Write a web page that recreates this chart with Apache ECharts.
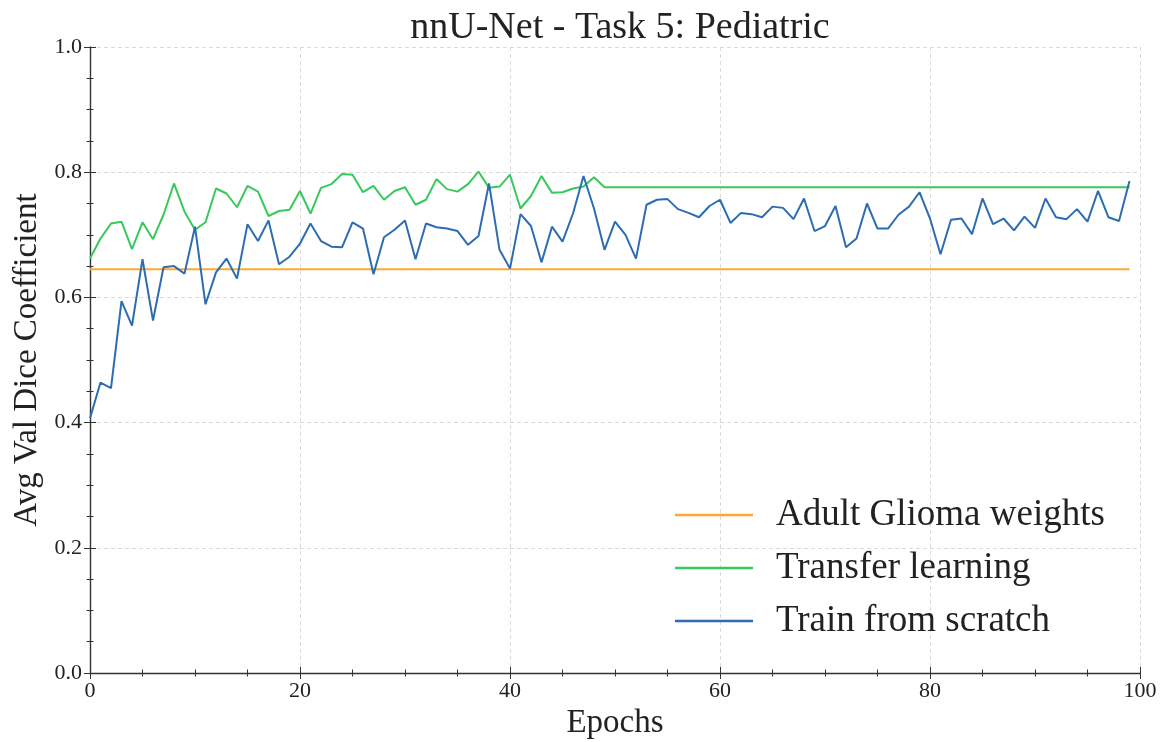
<!DOCTYPE html>
<html>
<head>
<meta charset="utf-8">
<script src="https://cdn.jsdelivr.net/npm/echarts@6/dist/echarts.min.js"></script>
<style>
html,body{margin:0;padding:0;background:#fff;}
#chart{width:1166px;height:742px;}
</style>
</head>
<body>
<div id="chart"></div>
<script>
// ---- data ----
var epochs = [];
for (var e = 0; e < 100; e++) epochs.push(e);

var adultGliomaValue = 0.645;
var adultGliomaEpochs = [0, 99];

var transferLearning = [
  0.662,0.694,0.718,0.721,0.677,0.720,0.693,0.732,0.782,0.737,
  0.708,0.720,0.774,0.766,0.744,0.778,0.769,0.730,0.738,0.740,
  0.770,0.734,0.775,0.781,0.797,0.796,0.768,0.778,0.756,0.770,
  0.776,0.748,0.756,0.789,0.773,0.769,0.781,0.801,0.775,0.777,
  0.796,0.742,0.762,0.794,0.767,0.768,0.774,0.777,0.792,0.776,
  0.776,0.776,0.776,0.776,0.776,0.776,0.776,0.776,0.776,0.776,
  0.776,0.776,0.776,0.776,0.776,0.776,0.776,0.776,0.776,0.776,
  0.776,0.776,0.776,0.776,0.776,0.776,0.776,0.776,0.776,0.776,
  0.776,0.776,0.776,0.776,0.776,0.776,0.776,0.776,0.776,0.776,
  0.776,0.776,0.776,0.776,0.776,0.776,0.776,0.776,0.776,0.776
];

var trainFromScratch = [
  0.407,0.464,0.455,0.594,0.555,0.661,0.563,0.648,0.650,0.638,
  0.713,0.589,0.640,0.662,0.630,0.717,0.690,0.723,0.653,0.665,
  0.686,0.718,0.690,0.681,0.680,0.720,0.710,0.637,0.696,0.708,
  0.723,0.661,0.718,0.712,0.710,0.706,0.684,0.698,0.782,0.676,
  0.646,0.733,0.714,0.656,0.713,0.689,0.734,0.794,0.742,0.676,
  0.721,0.700,0.662,0.748,0.756,0.757,0.741,0.735,0.728,0.746,
  0.756,0.719,0.735,0.733,0.728,0.745,0.743,0.725,0.758,0.706,
  0.714,0.746,0.680,0.694,0.750,0.710,0.710,0.732,0.745,0.768,
  0.726,0.669,0.724,0.726,0.701,0.758,0.717,0.726,0.707,0.729,
  0.711,0.758,0.728,0.725,0.741,0.721,0.770,0.728,0.722,0.786
];

var seriesNames = ['Adult Glioma weights', 'Transfer learning', 'Train from scratch'];
var seriesColors = ['#FFA733', '#38C95C', '#2C6DB2'];
var xTicks = [0, 20, 40, 60, 80, 100];
var yTicks = [0.0, 0.2, 0.4, 0.6, 0.8, 1.0];

// ---- chart ----
var FONT = '"Liberation Serif", "DejaVu Serif", serif';
var chart = echarts.init(document.getElementById('chart'), null, {renderer: 'canvas'});

function pairs(xs, ys) { return xs.map(function (x, i) { return [x, ys[i]]; }); }

var splitStyle = {show: true, lineStyle: {color: '#d0d0d0', type: [4, 3], width: 0.8}};
var tickStyle = {show: true, inside: true, length: 6, lineStyle: {color: '#333', width: 1}};
var minorStyle = {show: true, splitNumber: 4, length: 3.5, lineStyle: {color: '#333', width: 1}};

var option = {
  animation: false,
  backgroundColor: '#ffffff',
  title: {
    text: 'nnU-Net - Task 5: Pediatric',
    left: 615, top: 4, textAlign: 'center',
    textStyle: {fontFamily: FONT, fontSize: 38, fontWeight: 'normal', color: '#222'}
  },
  grid: {left: 90, right: 26, top: 47, bottom: 69, containLabel: false, outerBoundsMode: 'none'},
  legend: {
    orient: 'vertical',
    left: 670, top: 490,
    itemWidth: 78, itemHeight: 2.5,
    itemGap: 13,
    icon: 'rect',
    data: seriesNames,
    textStyle: {fontFamily: FONT, fontSize: 37, color: '#222', lineHeight: 40, padding: [0, 0, 0, 18]}
  },
  xAxis: [{
    type: 'value', min: xTicks[0], max: xTicks[xTicks.length - 1], interval: 20,
    name: 'Epochs', nameLocation: 'middle', nameGap: 34,
    nameTextStyle: {fontFamily: FONT, fontSize: 33, color: '#222'},
    axisLine: {show: true, lineStyle: {color: '#333', width: 1.4}},
    axisTick: tickStyle,
    minorTick: minorStyle,
    axisLabel: {fontFamily: FONT, fontSize: 22, color: '#222', margin: 7},
    splitLine: splitStyle
  }, {
    type: 'value', position: 'top', min: 0, max: 100, interval: 20,
    axisLine: {show: false},
    axisTick: tickStyle,
    minorTick: minorStyle,
    axisLabel: {show: false},
    splitLine: {show: false}
  }],
  yAxis: [{
    type: 'value', min: yTicks[0], max: yTicks[yTicks.length - 1], interval: 0.2,
    name: 'Avg Val Dice Coefficient', nameLocation: 'middle', nameGap: 44,
    nameTextStyle: {fontFamily: FONT, fontSize: 33, color: '#222'},
    axisLine: {show: true, lineStyle: {color: '#333', width: 1.4}},
    axisTick: tickStyle,
    minorTick: minorStyle,
    axisLabel: {fontFamily: FONT, fontSize: 22, color: '#222', margin: 8,
      formatter: function (v) { return v.toFixed(1); }},
    splitLine: splitStyle
  }, {
    type: 'value', position: 'right', min: 0, max: 1, interval: 0.2,
    axisLine: {show: false},
    axisTick: tickStyle,
    minorTick: minorStyle,
    axisLabel: {show: false},
    splitLine: {show: false}
  }],
  series: [{
    name: seriesNames[0], type: 'line', showSymbol: false, symbol: 'none',
    data: adultGliomaEpochs.map(function (x) { return [x, adultGliomaValue]; }),
    color: seriesColors[0],
    lineStyle: {color: seriesColors[0], width: 2}
  }, {
    name: seriesNames[1], type: 'line', showSymbol: false, symbol: 'none',
    data: pairs(epochs, transferLearning),
    color: seriesColors[1],
    lineStyle: {color: seriesColors[1], width: 2}
  }, {
    name: seriesNames[2], type: 'line', showSymbol: false, symbol: 'none',
    data: pairs(epochs, trainFromScratch),
    color: seriesColors[2],
    lineStyle: {color: seriesColors[2], width: 2}
  }]
};
chart.setOption(option);
</script>
</body>
</html>
